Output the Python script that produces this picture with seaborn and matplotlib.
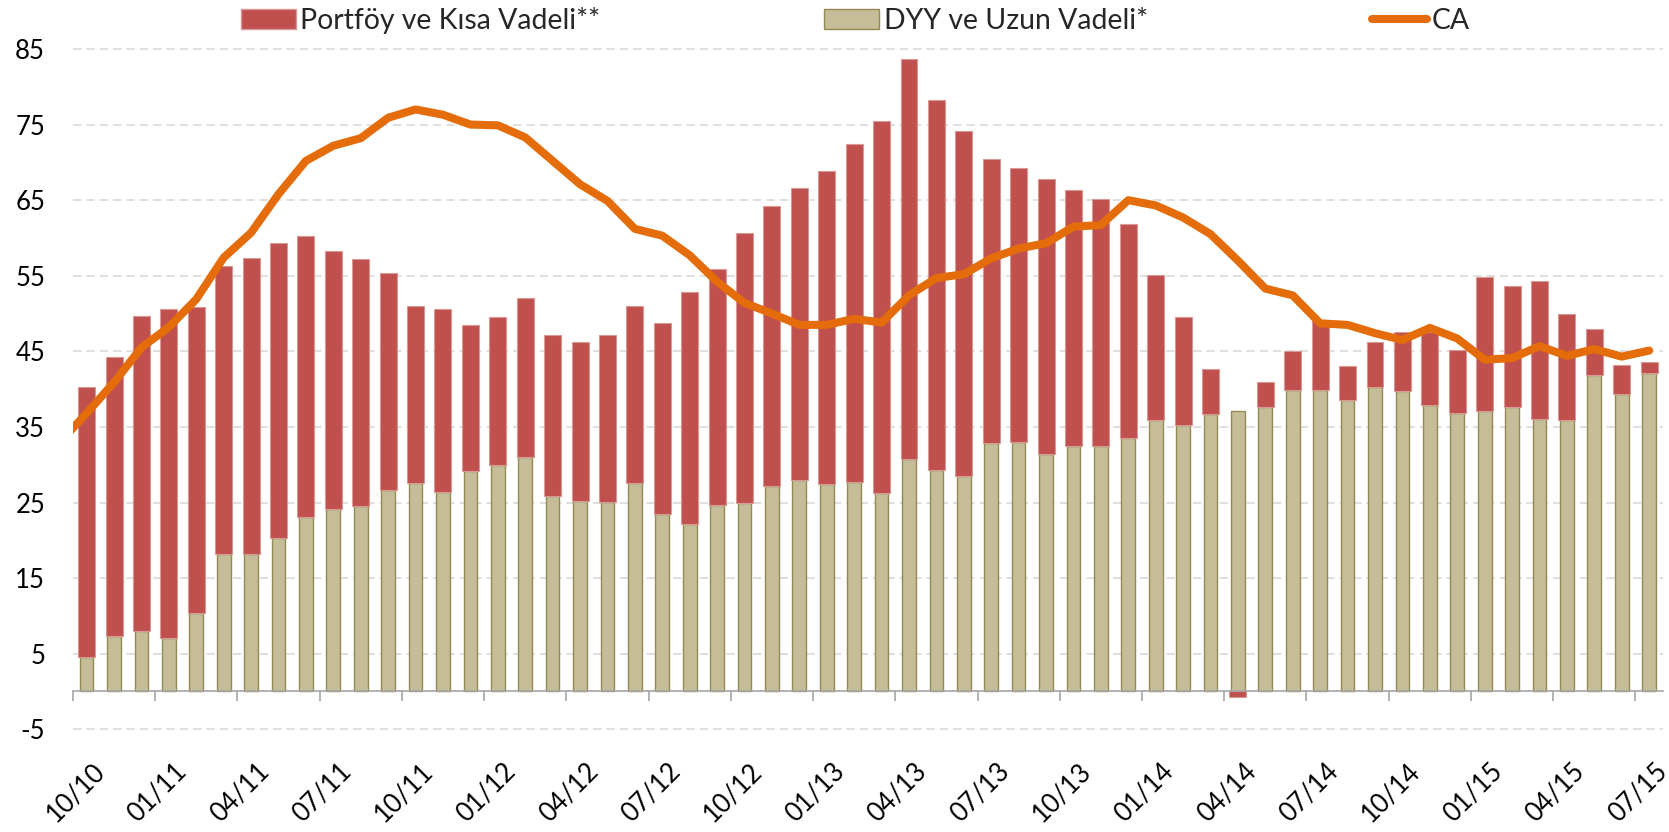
import numpy as np
import pandas as pd
import seaborn as sns
import matplotlib.pyplot as plt
from matplotlib.ticker import FixedLocator
import matplotlib.transforms as mtransforms
from matplotlib.patches import Patch
from matplotlib.lines import Line2D

# months 10/10 .. 07/15
months = list(pd.period_range("2010-10", "2015-07", freq="M").strftime("%m/%y"))

# DYY ve Uzun Vadeli* (tan, bottom of stack)
dyy = [4.5, 7.3, 8.0, 7.1, 10.4, 18.2, 18.2, 20.3, 23.1, 24.2, 24.5, 26.7,
       27.6, 26.4, 29.2, 29.9, 31.0, 25.9, 25.2, 25.1, 27.6, 23.5, 22.2, 24.7,
       25.0, 27.2, 28.0, 27.4, 27.7, 26.3, 30.8, 29.3, 28.5, 32.9, 33.0, 31.4,
       32.5, 32.5, 33.6, 35.9, 35.2, 36.7, 37.1, 37.6, 39.9, 39.9, 38.6, 40.3,
       39.8, 37.9, 36.9, 37.1, 37.6, 36.0, 35.9, 41.9, 39.4, 42.1]

# Portföy ve Kısa Vadeli** (red, stacked on top)
portfoy = [35.8, 37.0, 41.7, 43.5, 40.4, 38.1, 39.2, 39.0, 37.1, 34.1, 32.7, 28.6,
           23.4, 24.2, 19.3, 19.6, 21.1, 21.3, 21.1, 22.1, 23.4, 25.2, 30.7, 31.2,
           35.7, 37.0, 38.6, 41.5, 44.7, 49.2, 52.9, 49.0, 45.6, 37.5, 36.2, 36.4,
           33.9, 32.6, 28.3, 19.2, 14.4, 5.9, -0.7, 3.4, 5.1, 9.3, 4.4, 5.9,
           7.8, 9.7, 8.3, 17.7, 16.1, 18.3, 14.0, 6.0, 3.8, 1.5]

# CA line, first value is 09/10 (clipped at left edge)
ca = [32.9, 36.8, 40.9, 45.5, 48.2, 51.9, 57.4, 60.7, 65.8, 70.2, 72.2, 73.2, 75.9,
      77.0, 76.3, 75.0, 74.9, 73.3, 70.2, 67.1, 64.9, 61.2, 60.3, 57.7, 54.2,
      51.4, 50.0, 48.5, 48.5, 49.3, 48.8, 52.4, 54.7, 55.2, 57.3, 58.6, 59.3,
      61.5, 61.7, 65.0, 64.3, 62.7, 60.5, 57.0, 53.3, 52.4, 48.7, 48.5, 47.4,
      46.5, 48.1, 46.7, 43.9, 44.1, 45.7, 44.4, 45.3, 44.3, 45.1]

yticks = list(range(-5, 86, 10))

RED = "#C0504D"
TAN = "#C4BD97"
ORANGE = "#E46C0A"

sns.set_theme(style="white")
plt.rcParams["font.family"] = ["Lato", "DejaVu Sans"]

fig = plt.figure(figsize=(16.69, 8.32), dpi=100)
ax = fig.add_axes([0.0437, 0.1221, 0.9526, 0.8204])

df = pd.DataFrame({"month": months, "dyy": dyy, "portfoy": portfoy})
x = np.arange(len(months))

# tan bars through seaborn
sns.barplot(data=df, x="month", y="dyy", order=months, color=TAN, saturation=1,
            width=0.5, edgecolor="#948A54", linewidth=1, ax=ax, zorder=2)

# red bars stacked on top (negative values hang below zero)
p = np.array(portfoy)
bottom = np.where(p >= 0, np.array(dyy), 0)
ax.bar(x, p, bottom=bottom, width=0.62, color=RED, edgecolor="#D99795",
       linewidth=0.8, zorder=3)

ca_x = np.arange(-1, len(months))
sns.lineplot(x=ca_x, y=ca, color=ORANGE, linewidth=5.8, ax=ax, zorder=4,
             solid_joinstyle="round", solid_capstyle="round")

ax.set_xlim(-0.5, len(months) - 0.5)
ax.set_ylim(-5.15, 85.15)

# dashed grid
for v in yticks:
    ax.axhline(v, color="#D9D9D9", linewidth=1.2, linestyle=(0, (5, 3)), zorder=1)

for s in ["left", "right", "top"]:
    ax.spines[s].set_visible(False)
ax.spines["bottom"].set_position(("data", 0))
ax.spines["bottom"].set_color("#A6A6A6")
ax.spines["bottom"].set_linewidth(1.2)
ax.spines["bottom"].set_zorder(5)

ax.set_yticks(yticks)
ax.set_yticklabels([str(v) for v in yticks])
ax.tick_params(axis="y", length=0, pad=20, labelsize=18.5, labelcolor="black")

lab_idx = list(range(0, len(months), 3))
ax.set_xticks(lab_idx)
ax.set_xticklabels([months[i] for i in lab_idx], rotation=45, ha="right",
                   va="top", rotation_mode="anchor")
ax.xaxis.set_minor_locator(FixedLocator(np.arange(-0.5, len(months) - 1, 3)))
ax.tick_params(axis="x", which="major", length=0, pad=48, labelsize=18.5,
               labelcolor="black")
ax.tick_params(axis="x", which="minor", length=7.2, width=1.2, color="#A6A6A6",
               direction="out", bottom=True)
offset = mtransforms.ScaledTranslation(5 / 100, 0, fig.dpi_scale_trans)
for lbl in ax.get_xticklabels():
    lbl.set_transform(lbl.get_transform() + offset)
ax.set_xlabel("")
ax.set_ylabel("")

# legend across the top
handles = [Patch(facecolor=RED, edgecolor="#D99795"),
           Patch(facecolor=TAN, edgecolor="#948A54"),
           Line2D([], [], color=ORANGE, linewidth=5.8, solid_capstyle="round")]
labels = ["Portföy ve Kısa Vadeli**", "DYY ve Uzun Vadeli*", "CA"]
fig.legend(handles, labels, loc="center", bbox_to_anchor=(0.5123, 0.975), ncol=3,
           frameon=False, fontsize=20.4, handlelength=1.95, handleheight=0.7,
           handletextpad=0.15, columnspacing=7.9, borderaxespad=0)

fig.savefig("out.png", dpi=100)
